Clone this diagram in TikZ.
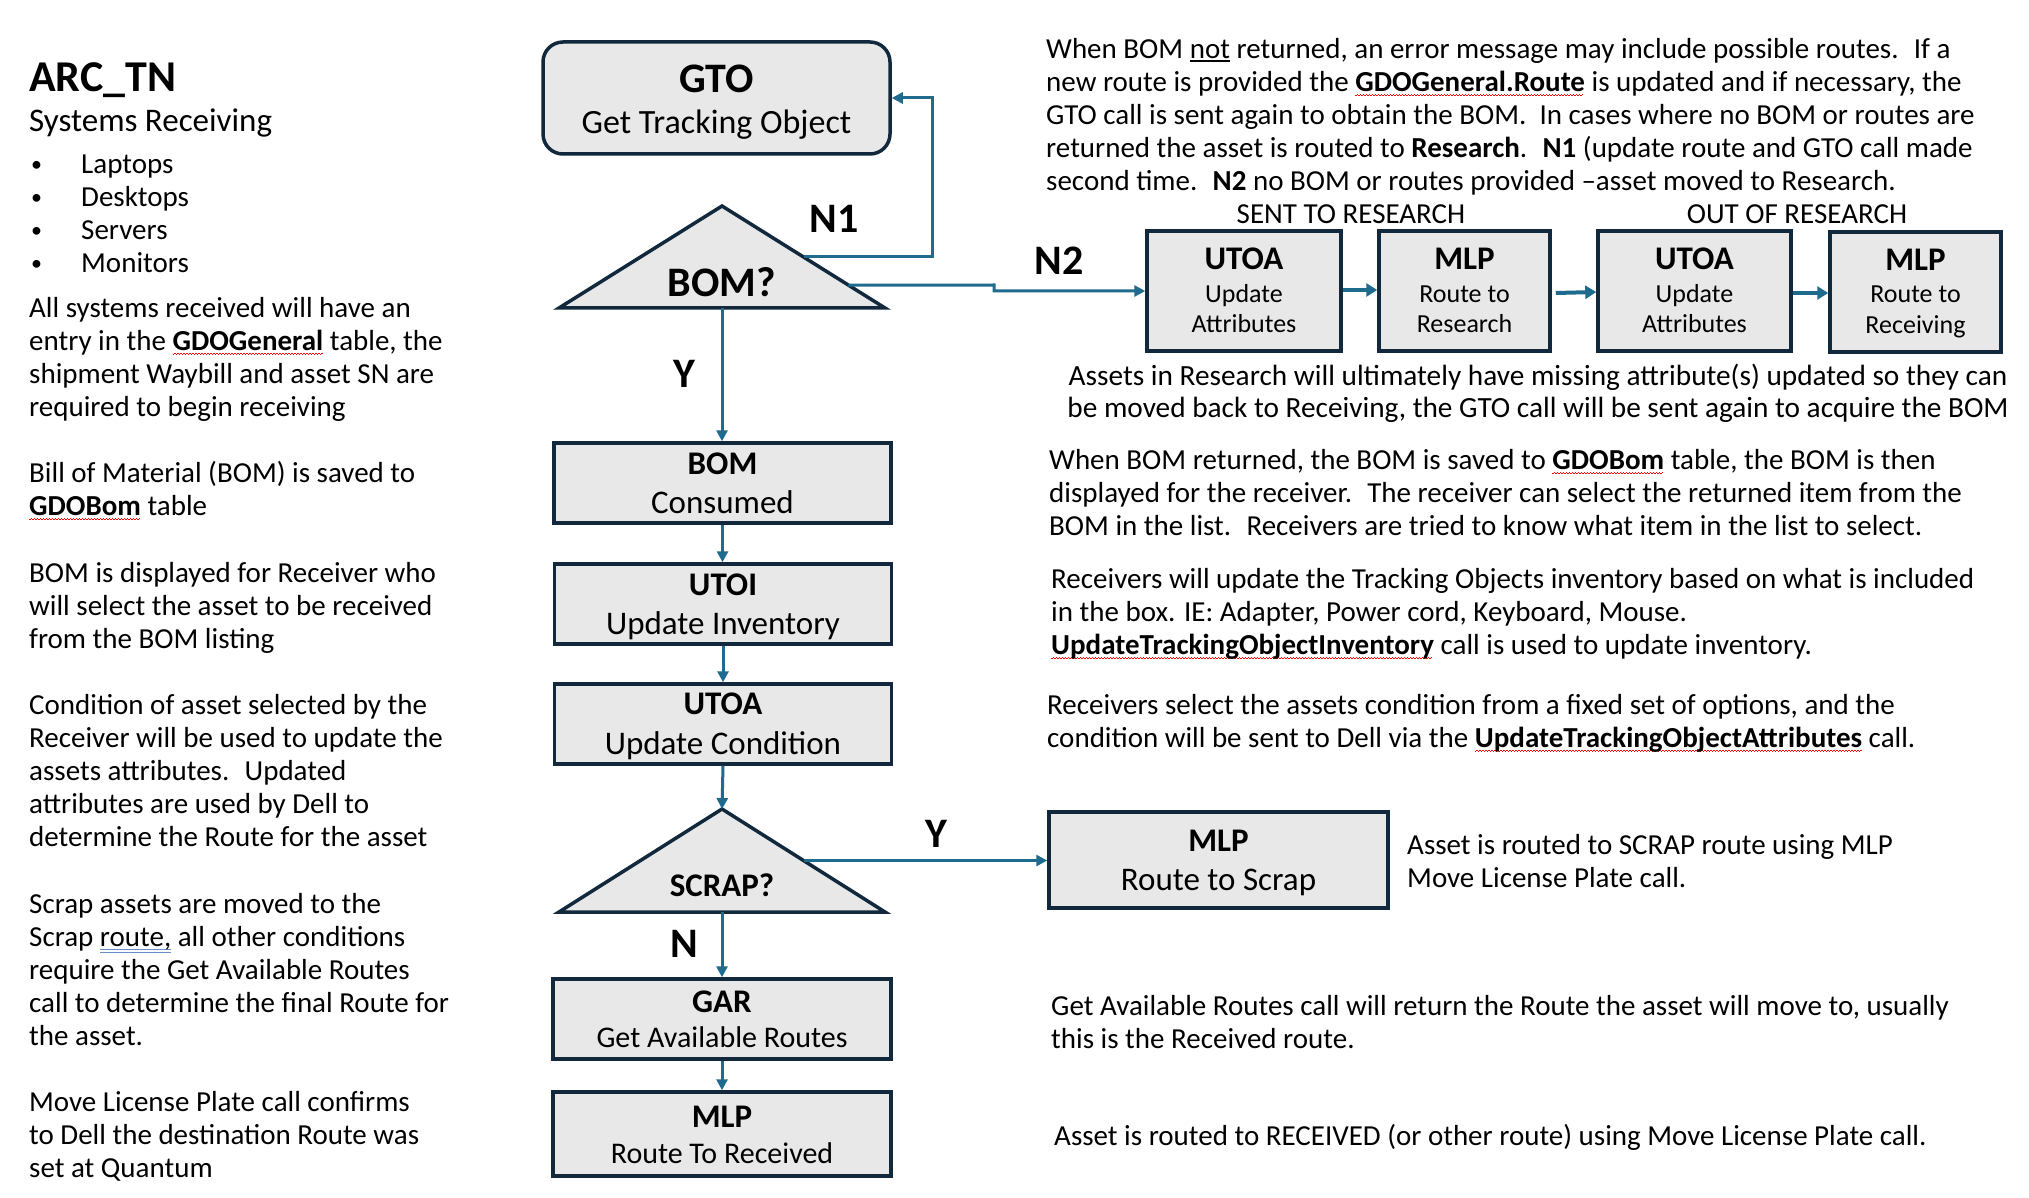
\documentclass[tikz,border=0pt]{standalone}
\usepackage{fontspec}
\setmainfont{Carlito}
\usetikzlibrary{arrows.meta,calc}
\definecolor{navy}{HTML}{12293D}
\definecolor{conn}{HTML}{1F6B8E}
\definecolor{boxgray}{HTML}{E8E8E8}
\definecolor{gblue}{HTML}{6A8CC8}
\newsavebox\ulbox
\newcommand\rwave[1]{\sbox\ulbox{#1}\rlap{\color{red}\leaders\hbox{\rule[-5pt]{1.5pt}{0.8pt}\rule[-3.8pt]{1.5pt}{0.8pt}}\hskip\wd\ulbox}\usebox\ulbox}
\newcommand\gdul[1]{\sbox\ulbox{#1}\rlap{\color{gblue}\rlap{\rule[-4pt]{\wd\ulbox}{0.9pt}}\rule[-6.5pt]{\wd\ulbox}{0.9pt}}\usebox\ulbox}
\newcommand\sul[1]{\sbox\ulbox{#1}\rlap{\rule[-3.5pt]{\wd\ulbox}{1.2pt}}\usebox\ulbox}
\begin{document}
\begin{tikzpicture}[x=1pt,y=-1pt,
  para/.style={font=\fontsize{29}{33}\selectfont, align=left, inner sep=0pt, anchor=north west},
  lbl/.style={inner sep=0pt, anchor=base},
  ttl/.style={lbl, font=\fontsize{33}{36}\selectfont\bfseries},
  sub/.style={lbl, font=\fontsize{33}{36}\selectfont},
  subs/.style={lbl, font=\fontsize{30}{33}\selectfont},
  rsub/.style={lbl, font=\fontsize{26}{30}\selectfont},
  big/.style={lbl, font=\fontsize{42}{46}\selectfont\bfseries},
  flowbox/.style={draw=navy, line width=3.5pt, fill=boxgray, inner sep=0pt},
  tri/.style={draw=navy, line width=3.5pt, fill=boxgray, line join=miter},
  conn/.style={draw=conn, line width=3pt, -{Triangle[length=11pt,width=11pt]}},
  connb/.style={draw=conn, line width=4pt, -{Triangle[length=11pt,width=13pt]}}
]
\fill[white] (0,0) rectangle (2029,1198);
\useasboundingbox (0,0) rectangle (2029,1198);

% ---------------- left column ----------------
\node[lbl, anchor=base west, font=\fontsize{44}{46}\selectfont\bfseries] (title) at (29,92) {ARC\_TN};
\node[lbl, anchor=base west, font=\fontsize{33}{36}\selectfont] (subtitle) at (29,132) {Systems Receiving};
\foreach \t/\yy [count=\i] in {Laptops/174, Desktops/207, Servers/240, Monitors/273}{
  \node[lbl, anchor=base west, font=\fontsize{22}{33}\selectfont] (bul\i) at (31,{\yy-2}) {•};
  \node[lbl, anchor=base west, font=\fontsize{29}{33}\selectfont] (item\i) at (81,\yy) {\t};
}
\node[para] (lp1) at (29,{317-23.1}) {\strut All systems received will have an\\
entry in the \textbf{\rwave{GDOGeneral}} table, the\\
shipment Waybill and asset SN are\\
required to begin receiving};
\node[para] (lp2) at (29,{482-23.1}) {\strut Bill of Material (BOM) is saved to\\
\textbf{\rwave{GDOBom}} table};
\node[para] (lp3) at (29,{582-23.1}) {\strut BOM is displayed for Receiver who\\
will select the asset to be received\\
from the BOM listing};
\node[para] (lp4) at (29,{714-23.1}) {\strut Condition of asset selected by the\\
Receiver will be used to update the\\
assets attributes.~ Updated\\
attributes are used by Dell to\\
determine the Route for the asset};
\node[para] (lp5) at (29,{913-23.1}) {\strut Scrap assets are moved to the\\
Scrap \gdul{route,} all other conditions\\
require the Get Available Routes\\
call to determine the final Route for\\
the asset.};
\node[para] (lp6) at (29,{1111-23.1}) {\strut Move License Plate call confirms\\
to Dell the destination Route was\\
set at Quantum};

% ---------------- flowchart ----------------
\node[flowbox, rounded corners=20pt, minimum width=347pt, minimum height=112pt] (gto) at (716.5,98) {};
\node[big] (gtoT) at (716.5,93) {GTO};
\node[lbl, font=\fontsize{34}{36}\selectfont] (gtoS) at (716.5,134) {Get Tracking Object};

\coordinate (bomT) at (722,206);
\coordinate (bomL) at (559,308);
\coordinate (bomR) at (885,308);
\coordinate (bomB) at (722,308);
\draw[tri] (bomT) -- (bomR) -- (bomL) -- cycle;
\node[big] (bomQ) at (722,297) {BOM?};

\node[flowbox, minimum width=337pt, minimum height=80pt] (bom) at (722.5,483) {};
\node[ttl] (bomT1) at (722.5,474) {BOM};
\node[sub] (bomT2) at (722.5,513) {Consumed};

\node[flowbox, minimum width=337pt, minimum height=80pt] (utoi) at (723,604) {};
\node[ttl] (utoiT1) at (723,595) {UTOI};
\node[sub] (utoiT2) at (723,634) {Update Inventory};

\node[flowbox, minimum width=337pt, minimum height=80pt] (utoa) at (723,724) {};
\node[ttl] (utoaT1) at (723,714) {UTOA};
\node[sub] (utoaT2) at (723,754) {Update Condition};

\coordinate (scT) at (722,809);
\coordinate (scL) at (559,912);
\coordinate (scR) at (885,912);
\coordinate (scB) at (722,912);
\draw[tri] (scT) -- (scR) -- (scL) -- cycle;
\node[ttl] (scQ) at (722,896) {SCRAP?};

\node[flowbox, minimum width=338pt, minimum height=80pt] (gar) at (722,1019) {};
\node[ttl] (garT1) at (722,1012) {GAR};
\node[subs] (garT2) at (722,1047) {Get Available Routes};

\node[flowbox, minimum width=338pt, minimum height=84pt] (mlp) at (722,1134) {};
\node[ttl] (mlpT1) at (722,1127) {MLP};
\node[subs] (mlpT2) at (722,1163) {Route To Received};

\node[flowbox, minimum width=339pt, minimum height=96pt] (mlpS) at (1218.5,860) {};
\node[ttl] (mlpST1) at (1218.5,851) {MLP};
\node[sub] (mlpST2) at (1218.5,890) {Route to Scrap};

% research row
\node[flowbox, minimum width=194pt, minimum height=120pt] (utoaA) at (1244,291) {};
\node[ttl] (utoaAt) at (1244,270) {UTOA};
\node[rsub] (utoaA2) at (1244,302) {Update};
\node[rsub] (utoaA3) at (1244,332) {Attributes};

\node[flowbox, minimum width=171pt, minimum height=120pt] (mlpA) at (1464.5,291) {};
\node[ttl] (mlpAt) at (1464.5,270) {MLP};
\node[rsub] (mlpA2) at (1464.5,302) {Route to};
\node[rsub] (mlpA3) at (1464.5,332) {Research};

\node[flowbox, minimum width=193pt, minimum height=120pt] (utoaB) at (1694.5,291) {};
\node[ttl] (utoaBt) at (1694.5,270) {UTOA};
\node[rsub] (utoaB2) at (1694.5,302) {Update};
\node[rsub] (utoaB3) at (1694.5,332) {Attributes};

\node[flowbox, minimum width=171pt, minimum height=120pt] (mlpB) at (1915.5,292) {};
\node[ttl] (mlpBt) at (1915.5,271) {MLP};
\node[rsub] (mlpB2) at (1915.5,303) {Route to};
\node[rsub] (mlpB3) at (1915.5,333) {Receiving};

\node[lbl, font=\fontsize{29}{33}\selectfont] (sent) at (1351,224) {SENT TO RESEARCH};
\node[lbl, font=\fontsize{29}{33}\selectfont] (outr) at (1797,224) {OUT OF RESEARCH};

% labels
\node[big] (lN1) at (834,233) {N1};
\node[big] (lN2) at (1059,275) {N2};
\node[big] (lY1) at (684,387) {Y};
\node[big] (lY2) at (936,847) {Y};
\node[big] (lN) at (684,957) {N};

% connectors
\coordinate (n1s) at ($(bomT)!0.5!(bomR)$);
\coordinate (n1k) at (932,257);
\draw[conn] (n1s) -- (n1k) |- (gto.east);
\coordinate (n2s) at ($(bomT)!0.775!(bomR)$);
\coordinate (n2k) at (994,285);
\draw[conn] (n2s) -- (n2k) |- (utoaA.west);
\draw[conn] (bomB) -- (bomB |- bom.north);
\draw[conn] (bom.south) -- (bom.south |- utoi.north);
\draw[conn] (utoi.south) -- (utoi.south |- utoa.north);
\draw[conn] (utoa.south) -- (scT);
\draw[conn] (scB) -- (scB |- gar.north);
\draw[conn] (gar.south) -- (gar.south |- mlp.north);
\coordinate (sys) at ($(scT)!0.5!(scR)$);
\draw[conn] (sys) -- (sys -| mlpS.west);
\draw[connb] ($(utoaA.east)+(0,-1)$) -- ($(mlpA.west)+(0,-1)$);
\draw[connb] ($(mlpA.east)+(4,2)$) -- ($(utoaB.west)+(0,1)$);
\draw[connb] ($(utoaB.east)+(0,2)$) -- ($(mlpB.west)+(0,1)$);

% ---------------- right texts ----------------
\node[para] (rp1) at (1046,{58-23.1}) {\strut When BOM \sul{not} returned, an error message may include possible routes.~ If a\\
new route is provided the \textbf{\rwave{GDOGeneral.Route}} is updated and if necessary, the\\
GTO call is sent again to obtain the BOM.~ In cases where no BOM or routes are\\
returned the asset is routed to \textbf{Research}.~ \textbf{N1} (update route and GTO call made\\
second time.~ \textbf{N2} no BOM or routes provided –asset moved to Research.};
\node[para, align=center, anchor=north, font=\fontsize{29.3}{32}\selectfont] (rp2) at (1538,{385-22.4}) {\strut Assets in Research will ultimately have missing attribute(s) updated so they can\\
be moved back to Receiving, the GTO call will be sent again to acquire the BOM};
\node[para] (rp3) at (1049,{469-23.1}) {\strut When BOM returned, the BOM is saved to \textbf{\rwave{GDOBom}} table, the BOM is then\\
displayed for the receiver.~ The receiver can select the returned item from the\\
BOM in the list.~ Receivers are tried to know what item in the list to select.};
\node[para] (rp4) at (1051,{588-23.1}) {\strut Receivers will update the Tracking Objects inventory based on what is included\\
in the box. IE: Adapter, Power cord, Keyboard, Mouse.\\
\textbf{\rwave{UpdateTrackingObjectInventory}} call is used to update inventory.};
\node[para] (rp5) at (1047,{714-23.1}) {\strut Receivers select the assets condition from a fixed set of options, and the\\
condition will be sent to Dell via the \textbf{\rwave{UpdateTrackingObjectAttributes}} call.};
\node[para] (rp6) at (1407,{854-23.1}) {\strut Asset is routed to SCRAP route using MLP\\
Move License Plate call.};
\node[para] (rp7) at (1051,{1015-23.1}) {\strut Get Available Routes call will return the Route the asset will move to, usually\\
this is the Received route.};
\node[para] (rp8) at (1054,{1145-23.1}) {\strut Asset is routed to RECEIVED (or other route) using Move License Plate call.};
\end{tikzpicture}
\end{document}
